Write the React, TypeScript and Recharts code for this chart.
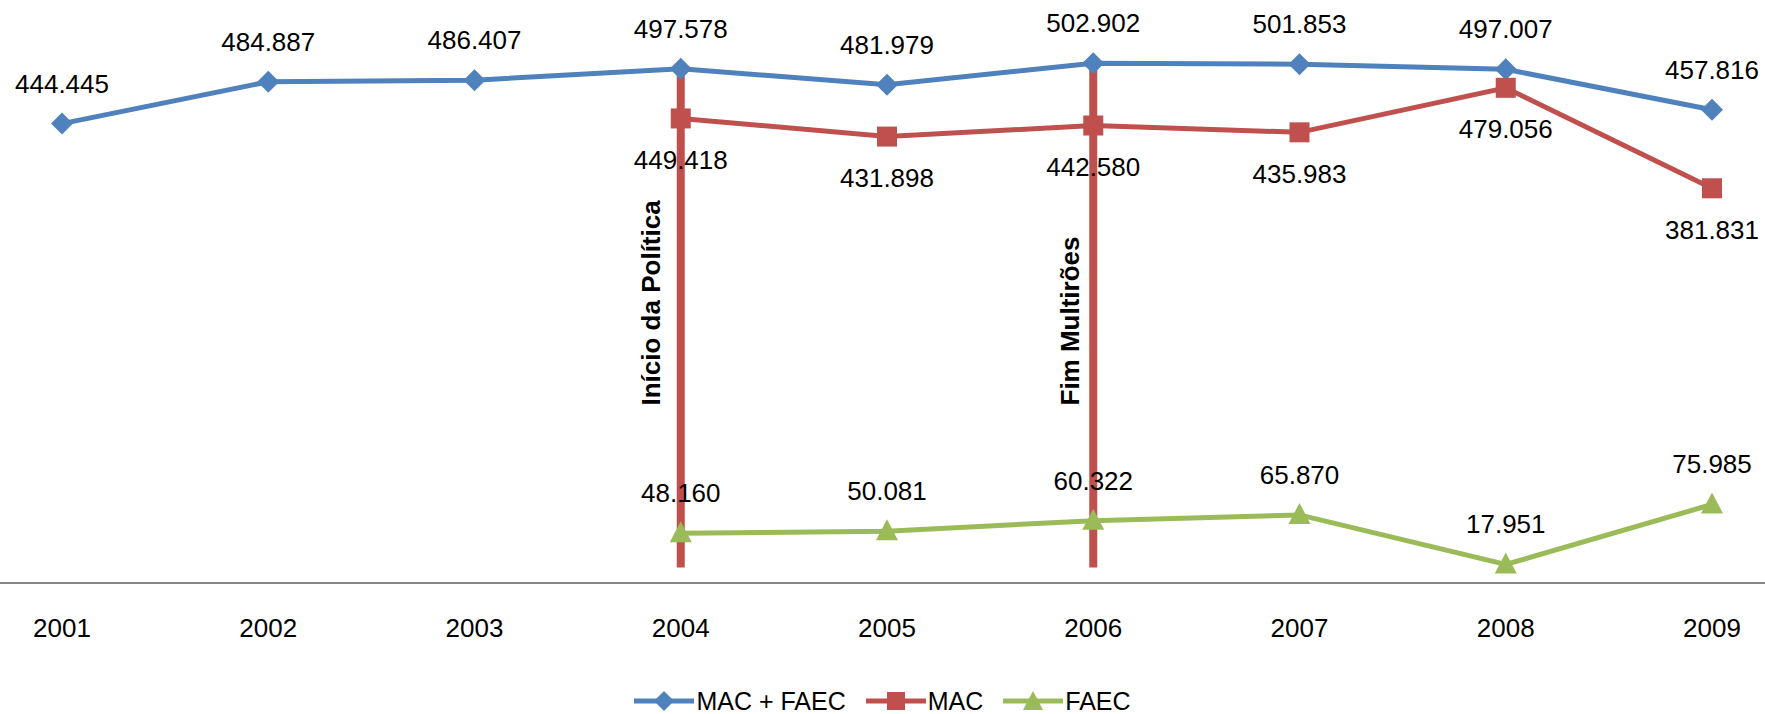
import {
  LabelList,
  Legend,
  Line,
  LineChart,
  ReferenceLine,
  XAxis,
  YAxis,
} from "recharts";

const years = ["2001", "2002", "2003", "2004", "2005", "2006", "2007", "2008", "2009"];
const macFaec = [444445, 484887, 486407, 497578, 481979, 502902, 501853, 497007, 457816];
const mac = [null, null, null, 449418, 431898, 442580, 435983, 479056, 381831];
const faec = [null, null, null, 48160, 50081, 60322, 65870, 17951, 75985];

const data = years.map((year, i) => ({
  year,
  macFaec: macFaec[i],
  mac: mac[i],
  faec: faec[i],
}));

const BLUE = "#4F81BD";
const RED = "#C0504D";
const GREEN = "#9BBB59";
const FONT = "'Liberation Sans', Arial, sans-serif";

const fmt = (v: any) =>
  v == null ? "" : String(v).replace(/\B(?=(\d{3})+(?!\d))/g, ".");

function Diamond(props: any) {
  const { cx, cy } = props;
  if (cx == null || cy == null) return <g key={props.key} />;
  return (
    <path
      key={props.key}
      d={`M${cx},${cy - 11} L${cx + 11},${cy} L${cx},${cy + 11} L${cx - 11},${cy} Z`}
      fill={BLUE}
    />
  );
}

function Square(props: any) {
  const { cx, cy } = props;
  if (cx == null || cy == null) return <g key={props.key} />;
  return <rect key={props.key} x={cx - 10} y={cy - 10} width={20} height={20} fill={RED} />;
}

function Triangle(props: any) {
  const { cx, cy } = props;
  if (cx == null || cy == null) return <g key={props.key} />;
  return (
    <path
      key={props.key}
      d={`M${cx},${cy - 12} L${cx + 11},${cy + 9} L${cx - 11},${cy + 9} Z`}
      fill={GREEN}
    />
  );
}

// rotated annotation drawn to the left of the red marker line
function lineNote(text: string, dx: number) {
  return ({ viewBox }: any) => {
    const x = viewBox.x + dx;
    const y = viewBox.y + viewBox.height - 162;
    return (
      <text
        x={x}
        y={y}
        transform={`rotate(-90 ${x} ${y})`}
        fontFamily={FONT}
        fontSize={26}
        fontWeight="bold"
        fill="#000"
      >
        {text}
      </text>
    );
  };
}

const legendItems = [
  { name: "MAC + FAEC", color: BLUE, shape: "diamond" },
  { name: "MAC", color: RED, shape: "square" },
  { name: "FAEC", color: GREEN, shape: "triangle" },
];

function LegendContent() {
  return (
    <div
      style={{
        display: "flex",
        justifyContent: "center",
        alignItems: "center",
        gap: 20,
        fontFamily: FONT,
        fontSize: 25,
        lineHeight: "30px",
        color: "#000",
      }}
    >
      {legendItems.map((it) => (
        <div key={it.name} style={{ display: "flex", alignItems: "center" }}>
          <svg width={60} height={30} style={{ marginRight: 2 }}>
            <line x1={0} y1={15} x2={60} y2={15} stroke={it.color} strokeWidth={5} />
            {it.shape === "diamond" && <path d="M30,5 L40,15 L30,25 L20,15 Z" fill={it.color} />}
            {it.shape === "square" && <rect x={21} y={6} width={18} height={18} fill={it.color} />}
            {it.shape === "triangle" && <path d="M30,5 L40,24 L20,24 Z" fill={it.color} />}
          </svg>
          <span>{it.name}</span>
        </div>
      ))}
    </div>
  );
}

const labelStyle = { fontFamily: FONT, fontSize: 26, fill: "#000" };

export default function App() {
  return (
    <div style={{ position: "absolute", left: 0, top: 0, background: "#fff" }}>
      <LineChart
        width={1765}
        height={714}
        data={data}
        margin={{ top: 0, right: 0, left: 0, bottom: 71 }}
      >
        <XAxis
          dataKey="year"
          scale="point"
          padding={{ left: 62, right: 53 }}
          height={60}
          axisLine={{ stroke: "#868686", strokeWidth: 2 }}
          tickLine={false}
          tickSize={0}
          tickMargin={36}
          tick={{ fontFamily: FONT, fontSize: 26, fill: "#000" }}
        />
        <YAxis hide domain={[0, 564000]} />
        <Line
          dataKey="macFaec"
          stroke={BLUE}
          strokeWidth={5}
          dot={Diamond}
          activeDot={false}
          isAnimationActive={false}
        >
          <LabelList dataKey="macFaec" position="top" offset={31} formatter={fmt} style={labelStyle} />
        </Line>
        <Line
          dataKey="mac"
          stroke={RED}
          strokeWidth={5}
          dot={Square}
          activeDot={false}
          isAnimationActive={false}
        >
          <LabelList dataKey="mac" position="bottom" offset={32} formatter={fmt} style={labelStyle} />
        </Line>
        <Line
          dataKey="faec"
          stroke={GREEN}
          strokeWidth={5}
          dot={Triangle}
          activeDot={false}
          isAnimationActive={false}
        >
          <LabelList dataKey="faec" position="top" offset={31} formatter={fmt} style={labelStyle} />
        </Line>
        <ReferenceLine
          segment={[
            { x: "2004", y: 15000 },
            { x: "2004", y: 503000 },
          ]}
          stroke={RED}
          strokeWidth={8}
          label={lineNote("Início da Política", -21)}
        />
        <ReferenceLine
          segment={[
            { x: "2006", y: 15000 },
            { x: "2006", y: 508000 },
          ]}
          stroke={RED}
          strokeWidth={8}
          label={lineNote("Fim Multirões", -14)}
        />
        <Legend
          verticalAlign="middle"
          layout="horizontal"
          content={LegendContent}
          wrapperStyle={{ position: "absolute", left: 0, top: 686, width: 1765, height: 30 }}
        />
      </LineChart>
    </div>
  );
}
